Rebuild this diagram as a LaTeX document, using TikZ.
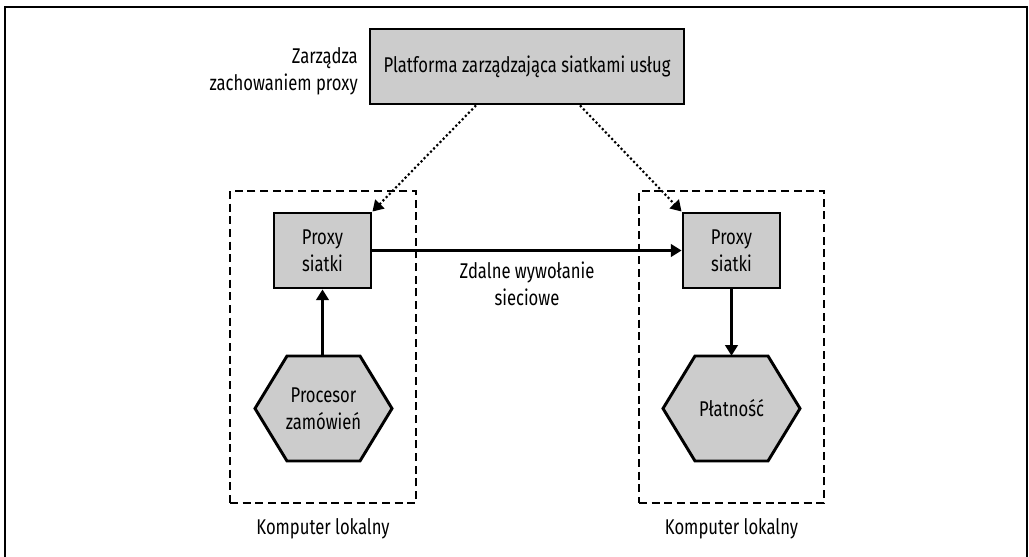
\documentclass[tikz,border=0pt]{standalone}
\usepackage{fontspec}
\setmainfont{Fira Sans}[FakeStretch=0.78]
\usetikzlibrary{arrows.meta}
\definecolor{boxgray}{HTML}{CCCCCC}
\begin{document}
\begin{tikzpicture}[x=0.75pt,y=-0.75pt,
  font=\fontsize{16}{20.5}\selectfont,
  graybox/.style={draw=black,line width=2.2pt,fill=boxgray,align=center,inner sep=0pt},
  hexfill/.style={draw=black,line width=2.2pt,fill=boxgray,line join=miter},
  hexnode/.style={align=center,inner sep=0pt,minimum width=137*0.75pt,minimum height=105*0.75pt},
  machine/.style={draw=black,line width=1.6pt,dash pattern=on 6pt off 3.5pt,inner sep=0pt},
  lbl/.style={align=center,inner sep=0pt},
  solidarrow/.style={line width=1.6pt,-{Triangle[length=8pt,width=9.5pt]}},
  dotarrow/.style={line width=1.6pt,dash pattern=on 1.6pt off 1.8pt,-{Triangle[length=8pt,width=9.5pt]}},
  frame/.style={line width=1.6pt}]
\useasboundingbox (0,0) rectangle (1029,557);
% outer frame (cut at the bottom)
\draw[frame] (5,560) -- (5,7) -- (1027,7) -- (1027,560);

% local machines
\node[machine,minimum width=186*0.75pt,minimum height=312*0.75pt] (machL) at (323,347) {};
\node[machine,minimum width=185*0.75pt,minimum height=312*0.75pt] (machR) at (731.5,347) {};
\node[lbl,anchor=base] (lblL) at (323,534) {Komputer lokalny};
\node[lbl,anchor=base] (lblR) at (731.5,534) {Komputer lokalny};

% platform
\node[graybox,minimum width=314*0.75pt,minimum height=75*0.75pt] (plat) at (527,66.5) {Platforma zarządzająca siatkami usług};
\node[lbl,align=right,anchor=east] (manage) at (358,71) {Zarządza\\zachowaniem proxy};

% proxies
\node[graybox,minimum width=97*0.75pt,minimum height=75*0.75pt] (proxyL) at (322.5,250.5) {Proxy\\siatki};
\node[graybox,minimum width=97*0.75pt,minimum height=75*0.75pt] (proxyR) at (731.5,250.5) {Proxy\\siatki};

% hexagons
\draw[hexfill] (255,408.5) -- (287,356) -- (360,356) -- (392,408.5) -- (360,461) -- (287,461) -- cycle;
\node[hexnode] (hexL) at (323.5,408.5) {Procesor\\zamówień};
\draw[hexfill] (663,408.5) -- (695,356) -- (768,356) -- (800,408.5) -- (768,461) -- (695,461) -- cycle;
\node[hexnode] (hexR) at (731.5,408.5) {Płatność};

% connectors
\draw[solidarrow] (proxyL.east) -- (proxyR.west);
\node[lbl] (call) at (527,284) {Zdalne wywołanie\\sieciowe};
\draw[solidarrow] (hexL.north -| proxyL.south) -- (proxyL.south);
\draw[solidarrow] (proxyR.south) -- (proxyR.south |- hexR.north);
\draw[dotarrow] ([xshift=-38.25pt]plat.south) -- (proxyL.north east);
\draw[dotarrow] ([xshift=39.75pt]plat.south) -- (proxyR.north west);
\end{tikzpicture}
\end{document}
